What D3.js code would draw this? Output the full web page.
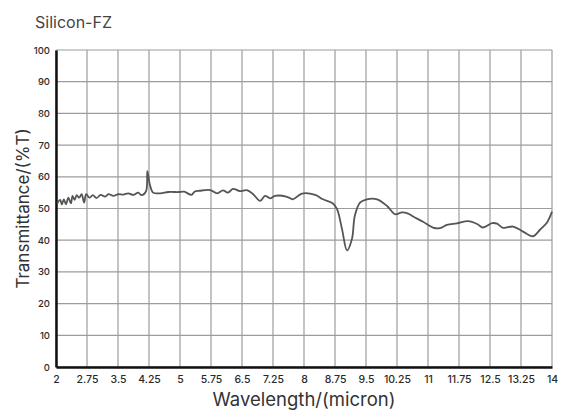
<!DOCTYPE html>
<html>
<head>
<meta charset="utf-8">
<script src="https://cdn.jsdelivr.net/npm/d3@7"></script>
<style>
  body { margin: 0; background: #fff; }
  svg { font-family: Inter, "Noto Sans", sans-serif; }
</style>
</head>
<body>
<svg width="571" height="414"></svg>
<script>
// Tick labels
var xTicks = ["2", "2.75", "3.5", "4.25", "5", "5.75", "6.5", "7.25", "8", "8.75",
  "9.5", "10.25", "11", "11.75", "12.5", "13.25", "14"];
var yTicks = [0, 10, 20, 30, 40, 50, 60, 70, 80, 90, 100];

// Spectrum: wavelength (micron) and transmittance (%T)
var wavelength = [2.03, 2.10, 2.14, 2.19, 2.24, 2.30, 2.36, 2.40, 2.45, 2.50, 2.56, 2.62, 2.68, 2.73,
  2.81, 2.89, 2.98, 3.08, 3.19, 3.27, 3.39, 3.51, 3.63, 3.75, 3.87, 3.99, 4.07, 4.18, 4.21, 4.27,
  4.35, 4.52, 4.72, 4.96, 5.10, 5.28, 5.35, 5.48, 5.73, 5.90, 6.04, 6.16, 6.28, 6.45, 6.62, 6.77,
  6.94, 7.06, 7.18, 7.30, 7.59, 7.73, 7.95, 8.27, 8.46, 8.70, 8.80, 8.92, 9.04, 9.16, 9.23, 9.36,
  9.52, 9.77, 10.01, 10.20, 10.37, 10.52, 10.64, 10.88, 11.12, 11.29, 11.46, 11.70, 11.97, 12.19,
  12.33, 12.55, 12.67, 12.82, 13.06, 13.30, 13.54, 13.71, 13.88, 14.0];
var transmittance = [51.6, 52.7, 51.3, 52.9, 51.3, 53.4, 51.6, 54.0, 52.7, 54.2, 53.4, 54.5, 51.9, 54.5,
  53.4, 54.2, 53.3, 54.3, 53.75, 54.5, 54.0, 54.5, 54.4, 54.8, 54.3, 55.0, 54.2, 55.5, 61.8, 57.6,
  55.0, 54.8, 55.2, 55.2, 55.3, 54.3, 55.3, 55.6, 55.8, 54.8, 55.7, 55.0, 56.2, 55.5, 55.8, 54.5,
  52.4, 54.0, 53.2, 54.0, 53.7, 52.9, 54.7, 54.3, 52.9, 51.6, 49.8, 43.5, 36.8, 40.4, 47.7, 51.9,
  52.9, 52.9, 50.8, 48.2, 48.75, 48.4, 47.5, 45.8, 44.0, 43.8, 44.8, 45.3, 46.0, 45.1,
  44.0, 45.4, 45.2, 43.9, 44.3, 42.7, 41.25, 43.3, 45.6, 49.0];

var svg = d3.select("svg");
var margin = {left: 56, right: 19, top: 50, bottom: 47};
var width = 571 - margin.left - margin.right;
var height = 414 - margin.top - margin.bottom;

var x = d3.scaleLinear().domain([2, 14]).range([0, width]);
var y = d3.scaleLinear().domain([0, 100]).range([height, 0]);

var g = svg.append("g").attr("transform", "translate(" + margin.left + "," + margin.top + ")");

// Grid
g.append("g")
  .selectAll("line")
  .data(xTicks)
  .enter().append("line")
    .attr("x1", function(d) { return x(+d); })
    .attr("x2", function(d) { return x(+d); })
    .attr("y1", 0)
    .attr("y2", height)
    .attr("stroke", "#9c9c9c")
    .attr("stroke-width", 1.2);

g.append("g")
  .selectAll("line")
  .data(yTicks)
  .enter().append("line")
    .attr("x1", 0)
    .attr("x2", width)
    .attr("y1", function(d) { return y(d); })
    .attr("y2", function(d) { return y(d); })
    .attr("stroke", "#9c9c9c")
    .attr("stroke-width", 1.2);

// Axes
var xAxis = g.append("g")
  .attr("transform", "translate(0," + height + ")")
  .call(d3.axisBottom(x).tickValues(xTicks.map(Number)).tickSize(0).tickPadding(9)
    .tickFormat(function(d, i) { return xTicks[i]; }));
var yAxis = g.append("g")
  .call(d3.axisLeft(y).tickValues(yTicks).tickSize(0).tickPadding(6));

[xAxis, yAxis].forEach(function(a) {
  a.select(".domain").attr("stroke", "#111").attr("stroke-width", 2.5);
  a.selectAll("text").attr("fill", "#2a2a2a").style("font-size", "10.5px")
    .style("font-weight", "500")
    .style("font-family", "Inter, sans-serif");
});
yAxis.selectAll("text").style("font-size", "9.5px");

// Spectrum line
var points = wavelength.map(function(w, i) { return [w, transmittance[i]]; });
var line = d3.line()
  .x(function(d) { return x(d[0]); })
  .y(function(d) { return y(d[1]); })
  .curve(d3.curveCatmullRom.alpha(0.5));

g.append("path")
  .datum(points)
  .attr("fill", "none")
  .attr("stroke", "#555")
  .attr("stroke-width", 1.8)
  .attr("d", line);

// Title and axis labels
svg.append("text")
  .attr("x", 35).attr("y", 28)
  .attr("fill", "#444")
  .style("font-size", "16px")
  .text("Silicon-FZ");

svg.append("text")
  .attr("transform", "translate(29," + (margin.top + height / 2) + ")rotate(-90)")
  .attr("text-anchor", "middle")
  .attr("fill", "#333")
  .style("font-size", "17px")
  .text("Transmittance/(%T)");

svg.append("text")
  .attr("x", margin.left + width / 2)
  .attr("y", 406)
  .attr("text-anchor", "middle")
  .attr("fill", "#333")
  .style("font-size", "18.5px")
  .text("Wavelength/(micron)");
</script>
</body>
</html>
